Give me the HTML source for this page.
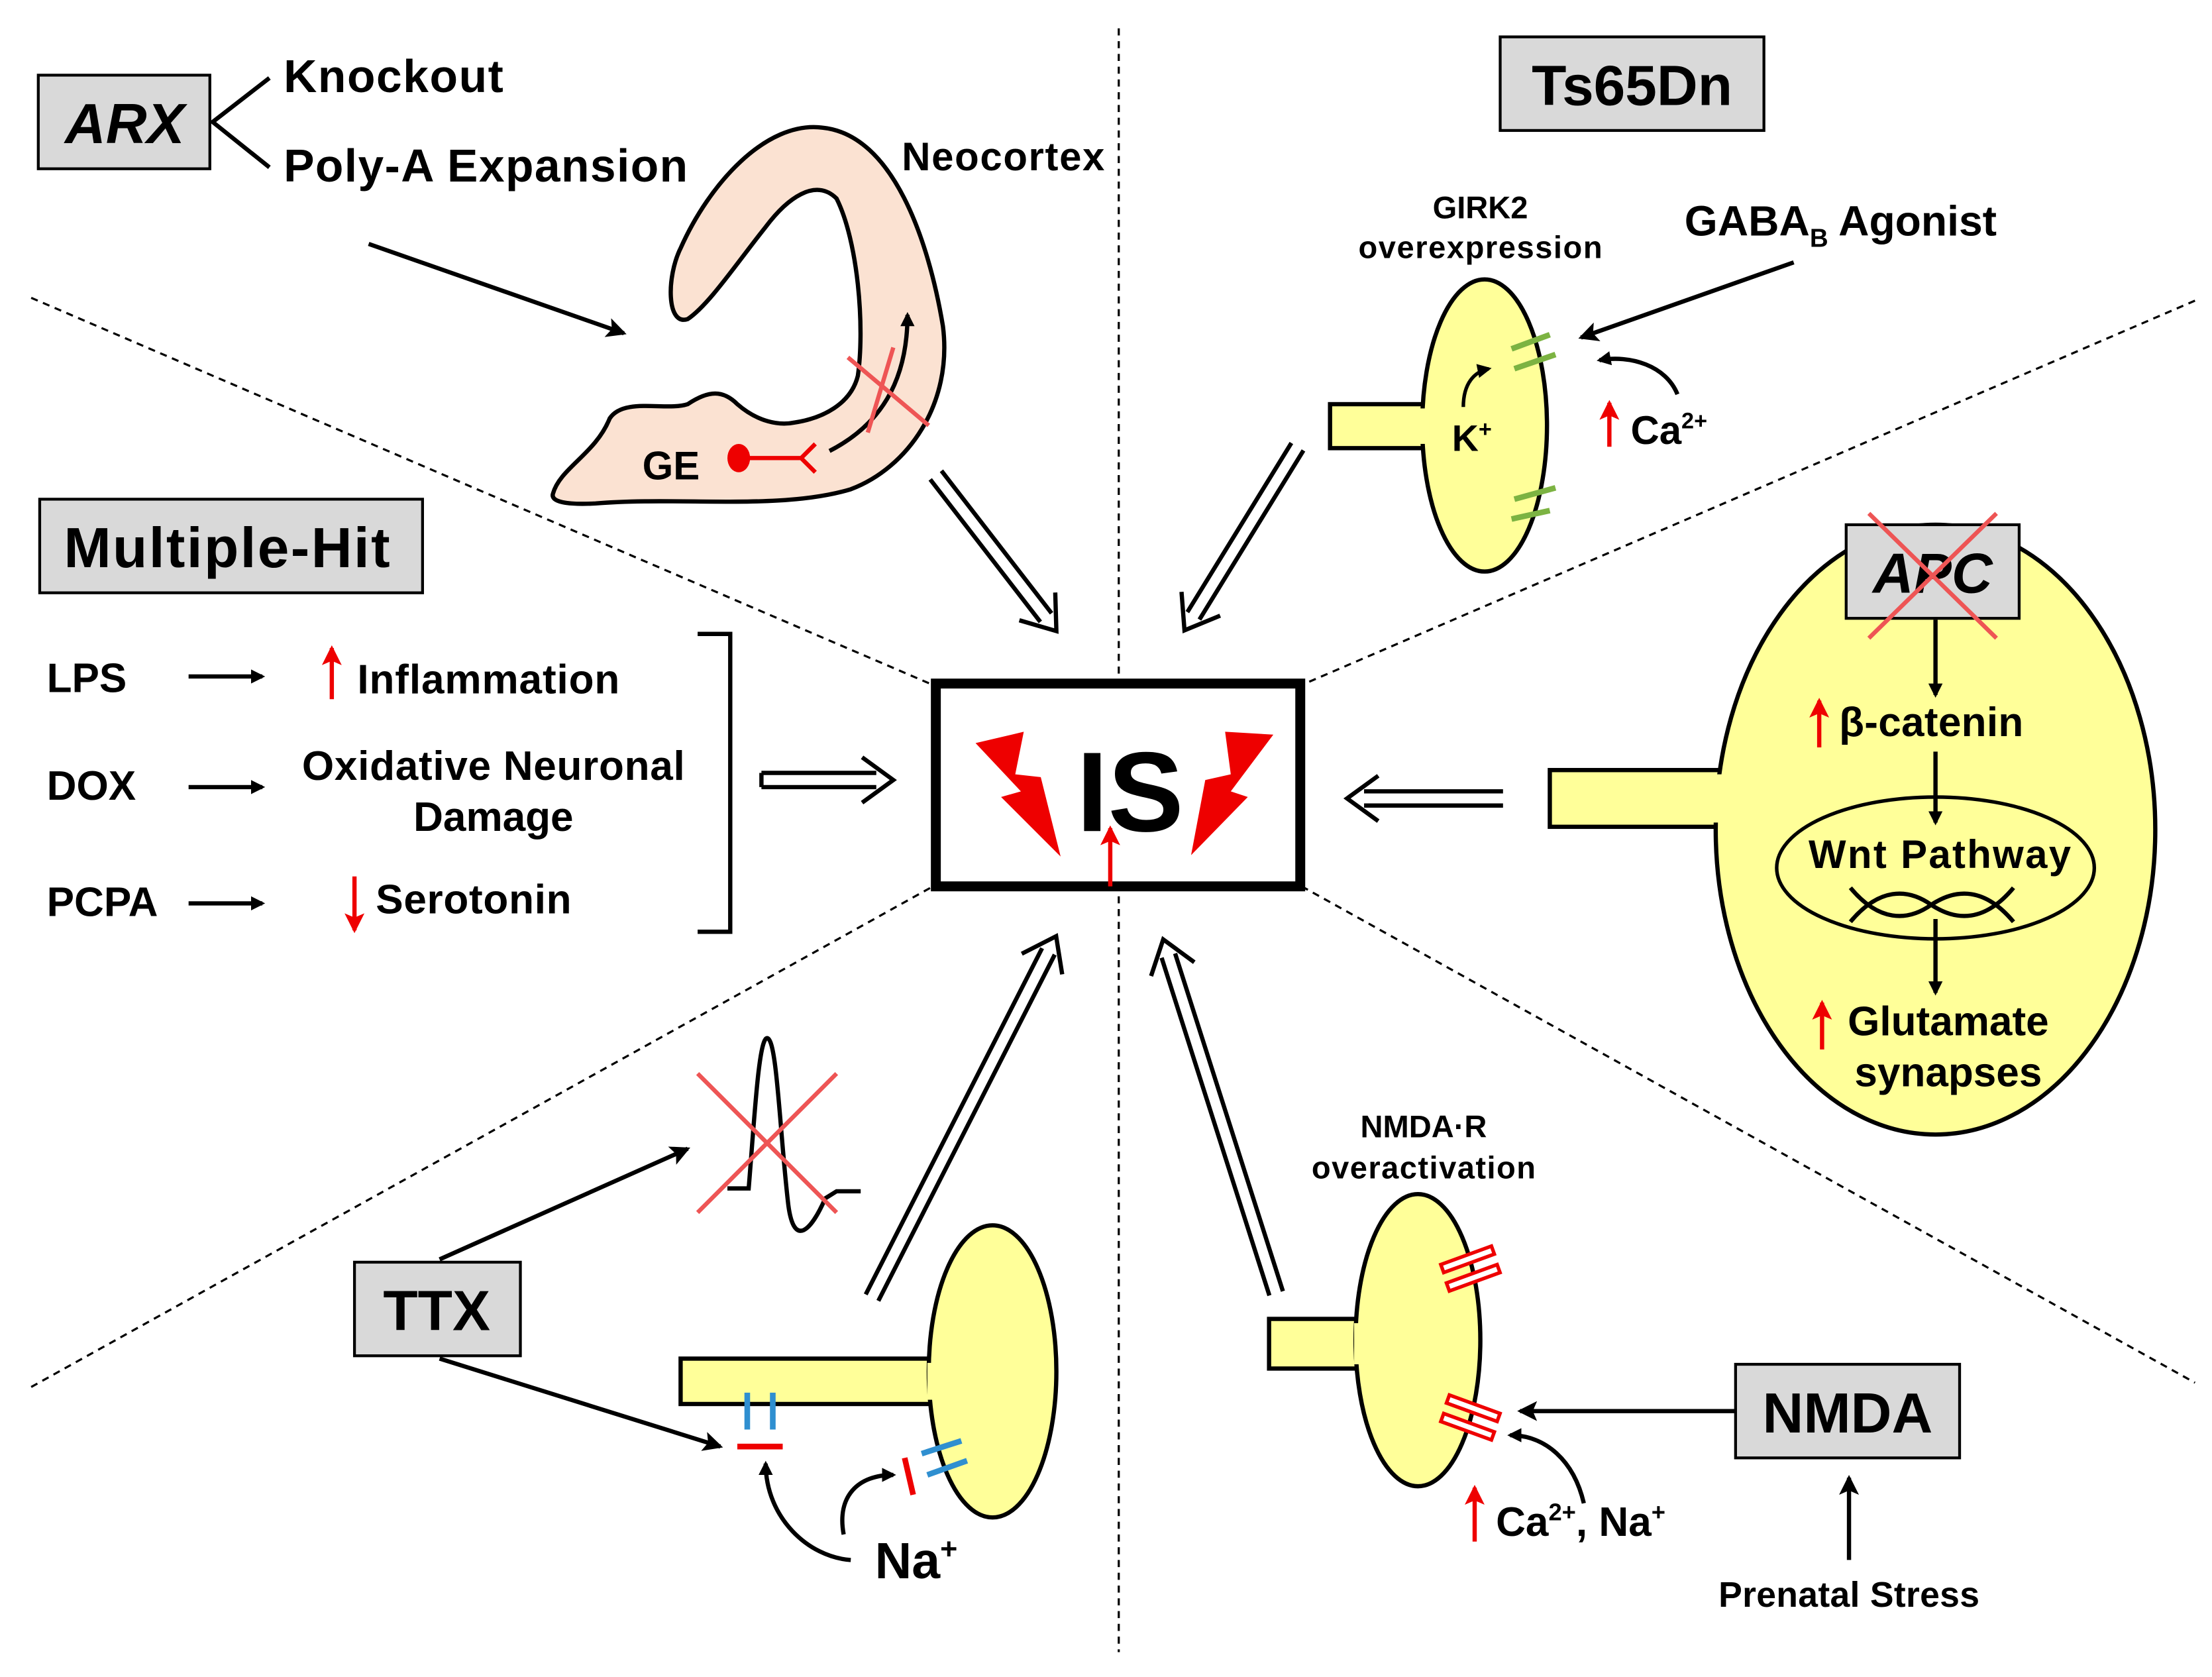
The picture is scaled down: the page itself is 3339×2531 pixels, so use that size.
<!DOCTYPE html>
<html><head><meta charset="utf-8"><style>
html,body{margin:0;padding:0;background:#fff;}
svg{display:block;}
text{font-family:"Liberation Sans",Arial,sans-serif;font-weight:bold;fill:#000;}
</style></head><body>
<svg width="3339" height="2531" viewBox="0 0 1560 1182.5" preserveAspectRatio="none" xmlns="http://www.w3.org/2000/svg">
<defs>
<marker id="ah" markerWidth="10" markerHeight="10" refX="8" refY="5" orient="auto" markerUnits="userSpaceOnUse" viewBox="0 0 10 10">
<path d="M0,0 L10,5 L0,10 Z" fill="#000"/></marker>
<marker id="ahb" markerWidth="14" markerHeight="14" refX="12" refY="7" orient="auto" markerUnits="userSpaceOnUse" viewBox="0 0 14 14">
<path d="M0,0 L14,7 L0,14 L3,7 Z" fill="#000"/></marker>
<marker id="ahr" markerWidth="14" markerHeight="14" refX="12" refY="7" orient="auto" markerUnits="userSpaceOnUse" viewBox="0 0 14 14">
<path d="M0,0 L14,7 L0,14 L3,7 Z" fill="#e00"/></marker>
</defs>

<g stroke="#000" stroke-width="1.5" stroke-dasharray="5,4" fill="none">
<line x1="789" y1="20" x2="789" y2="1165"/>
<line x1="22" y1="210" x2="658" y2="483"/>
<line x1="1548" y1="212" x2="918" y2="483"/>
<line x1="22" y1="978" x2="658" y2="625"/>
<line x1="918" y1="625" x2="1548" y2="975"/>
</g>

<rect x="660" y="482" width="257" height="143" fill="#fff" stroke="#000" stroke-width="7"/>
<text x="797" y="586" font-size="80" text-anchor="middle">IS</text>
<polygon points="688,524 722,516 716,546 734,548 748,604 706,562 720,558" fill="#e00"/>
<polygon points="898,518 864,516 868,546 850,550 840,603 880,562 868,558" fill="#e00"/>
<line x1="783" y1="625" x2="783" y2="584" stroke="#e00" stroke-width="3" marker-end="url(#ahr)"/>

<g stroke="#000" fill="none" stroke-width="3">
<g transform="translate(660,335) rotate(52.3)"><path d="M0,-5 H127 M0,5 H127"/><polyline points="117,-16 139,0 117,16"/></g>
<g transform="translate(915,315) rotate(121.6)"><path d="M0,-5 H140 M0,5 H140"/><polyline points="130,-16 152,0 130,16"/></g>
<g transform="translate(537,550)"><path d="M0,-5 H81 M0,5 H81 M0,-5 V5"/><polyline points="71,-16 93,0 71,16"/></g>
<g transform="translate(1060,563) rotate(180)"><path d="M0,-5 H98 M0,5 H98"/><polyline points="88,-16 110,0 88,16"/></g>
<g transform="translate(615,915) rotate(-63)"><path d="M0,-5 H274 M0,5 H274"/><polyline points="264,-16 286,0 264,16"/></g>
<g transform="translate(900,912) rotate(-107.7)"><path d="M0,-5 H250 M0,5 H250"/><polyline points="240,-16 262,0 240,16"/></g>
</g>

<rect x="27" y="53" width="121" height="66" fill="#d9d9d9" stroke="#000" stroke-width="2"/>
<text x="88" y="101" font-size="40" font-style="italic" text-anchor="middle">ARX</text>
<polyline points="190,55 150,86 190,118" fill="none" stroke="#000" stroke-width="3"/>
<text x="200" y="65" font-size="32.5" textLength="155">Knockout</text>
<text x="200" y="128" font-size="32.5" textLength="285">Poly-A Expansion</text>
<line x1="260" y1="172" x2="440" y2="235" stroke="#000" stroke-width="3" marker-end="url(#ahb)"/>

<path d="M390,348 C395,330 420,320 430,295 C440,280 470,290 485,285 C500,275 510,275 520,285 C535,298 550,300 560,298 C580,295 600,285 605,265 C610,230 605,170 590,140 C575,125 555,140 540,160 C520,185 500,215 485,225 C470,230 470,195 480,175 C500,130 540,85 580,90 C630,95 655,170 665,230 C672,285 640,330 600,345 C550,360 480,350 420,355 C400,356 388,354 390,348 Z" fill="#fbe2d2" stroke="#000" stroke-width="3"/>
<text x="636" y="120" font-size="28" textLength="143">Neocortex</text>
<text x="453" y="338" font-size="28">GE</text>
<ellipse cx="521" cy="323" rx="8" ry="10" fill="#e00"/>
<line x1="521" y1="323" x2="565" y2="323" stroke="#e00" stroke-width="3"/>
<path d="M575,313 L565,323 L575,333" fill="none" stroke="#e00" stroke-width="3"/>
<path d="M585,318 C620,300 640,270 640,222" fill="none" stroke="#000" stroke-width="3" marker-end="url(#ah)"/>
<line x1="598" y1="252" x2="655" y2="300" stroke="#e55" stroke-width="3"/>
<line x1="630" y1="245" x2="612" y2="305" stroke="#e55" stroke-width="3"/>

<rect x="28" y="352" width="270" height="66" fill="#d9d9d9" stroke="#000" stroke-width="2"/>
<text x="160" y="400" font-size="40" text-anchor="middle" textLength="230">Multiple-Hit</text>
<g font-size="29">
<text x="33" y="488">LPS</text>
<text x="33" y="564">DOX</text>
<text x="33" y="646">PCPA</text>
<text x="252" y="489" textLength="185">Inflammation</text>
<text x="348" y="550" text-anchor="middle" textLength="270">Oxidative Neuronal</text>
<text x="348" y="586" text-anchor="middle">Damage</text>
<text x="265" y="644" textLength="138">Serotonin</text>
</g>
<g stroke="#000" stroke-width="3" fill="none">
<line x1="133" y1="477" x2="185" y2="477" marker-end="url(#ah)"/>
<line x1="133" y1="555" x2="185" y2="555" marker-end="url(#ah)"/>
<line x1="133" y1="637" x2="185" y2="637" marker-end="url(#ah)"/>
<polyline points="492,447 515,447 515,657 492,657"/>
</g>
<line x1="234" y1="493" x2="234" y2="457" stroke="#e00" stroke-width="3" marker-end="url(#ahr)"/>
<line x1="250" y1="618" x2="250" y2="656" stroke="#e00" stroke-width="3" marker-end="url(#ahr)"/>

<rect x="1058" y="26" width="186" height="66" fill="#d9d9d9" stroke="#000" stroke-width="2"/>
<text x="1151" y="74" font-size="40" text-anchor="middle">Ts65Dn</text>
<text x="1044" y="154" font-size="22" text-anchor="middle">GIRK2</text>
<text x="1044" y="182" font-size="22" text-anchor="middle" textLength="172">overexpression</text>
<text x="1188" y="166" font-size="30">GABA<tspan font-size="18" dy="8">B</tspan><tspan dy="-8"> Agonist</tspan></text>
<line x1="1265" y1="185" x2="1115" y2="238" stroke="#000" stroke-width="3" marker-end="url(#ahb)"/>
<rect x="938" y="285" width="70" height="31" fill="#ffff99" stroke="#000" stroke-width="3"/>
<ellipse cx="1047" cy="300" rx="44" ry="103" fill="#ffff99" stroke="#000" stroke-width="3"/>
<rect x="1000" y="288" width="8" height="25" fill="#ffff99"/>
<g stroke="#7cb342" stroke-width="4">
<line x1="1066" y1="246" x2="1093" y2="236"/><line x1="1068" y1="260" x2="1097" y2="250"/>
<line x1="1068" y1="352" x2="1097" y2="344"/><line x1="1066" y1="366" x2="1093" y2="360"/>
</g>
<text x="1024" y="318" font-size="26">K<tspan font-size="16" dy="-10">+</tspan></text>
<path d="M1032,287 C1032,270 1040,262 1050,260" fill="none" stroke="#000" stroke-width="2.5" marker-end="url(#ah)"/>
<line x1="1135" y1="315" x2="1135" y2="284" stroke="#e00" stroke-width="3" marker-end="url(#ahr)"/>
<text x="1150" y="313" font-size="28">Ca<tspan font-size="16" dy="-11">2+</tspan></text>
<path d="M1183,278 C1175,258 1150,250 1128,254" fill="none" stroke="#000" stroke-width="3" marker-end="url(#ah)"/>

<rect x="1093" y="543" width="125" height="40" fill="#ffff99" stroke="#000" stroke-width="3"/>
<ellipse cx="1365" cy="585" rx="155" ry="215" fill="#ffff99" stroke="#000" stroke-width="3"/>
<rect x="1205" y="546" width="14" height="34" fill="#ffff99"/>
<rect x="1302" y="370" width="122" height="66" fill="#d9d9d9" stroke="#000" stroke-width="2"/>
<text x="1363" y="418" font-size="40" font-style="italic" text-anchor="middle">APC</text>
<line x1="1318" y1="362" x2="1408" y2="450" stroke="#e55" stroke-width="3"/>
<line x1="1408" y1="362" x2="1318" y2="450" stroke="#e55" stroke-width="3"/>
<g stroke="#000" stroke-width="3">
<line x1="1365" y1="437" x2="1365" y2="490" marker-end="url(#ah)"/>
<line x1="1365" y1="530" x2="1365" y2="580" marker-end="url(#ah)"/>
<line x1="1365" y1="648" x2="1365" y2="700" marker-end="url(#ah)"/>
</g>
<line x1="1283" y1="527" x2="1283" y2="494" stroke="#e00" stroke-width="3" marker-end="url(#ahr)"/>
<text x="1297" y="519" font-size="29" textLength="130">β-catenin</text>
<ellipse cx="1365" cy="612" rx="112" ry="50" fill="none" stroke="#000" stroke-width="2.5"/>
<text x="1368" y="612" font-size="28" text-anchor="middle" textLength="185">Wnt Pathway</text>
<path d="M1305,626 C1325,650 1345,650 1362,638 C1380,626 1400,626 1420,650 M1305,650 C1325,626 1345,626 1362,638 C1380,650 1400,650 1420,626" fill="none" stroke="#000" stroke-width="3"/>
<line x1="1285" y1="740" x2="1285" y2="707" stroke="#e00" stroke-width="3" marker-end="url(#ahr)"/>
<text x="1374" y="730" font-size="29" text-anchor="middle">Glutamate</text>
<text x="1374" y="766" font-size="29" text-anchor="middle">synapses</text>

<rect x="250" y="890" width="117" height="66" fill="#d9d9d9" stroke="#000" stroke-width="2"/>
<text x="308" y="938" font-size="40" text-anchor="middle">TTX</text>
<line x1="310" y1="888" x2="485" y2="810" stroke="#000" stroke-width="3" marker-end="url(#ahb)"/>
<line x1="310" y1="958" x2="508" y2="1020" stroke="#000" stroke-width="3" marker-end="url(#ahb)"/>
<path d="M513,838 L528,838 C532,790 535,732 541,732 C548,732 550,800 556,850 C560,880 572,868 582,845 L590,840 L607,840" fill="none" stroke="#000" stroke-width="3"/>
<line x1="492" y1="757" x2="590" y2="855" stroke="#e55" stroke-width="3"/>
<line x1="590" y1="757" x2="492" y2="855" stroke="#e55" stroke-width="3"/>
<rect x="480" y="958" width="190" height="32" fill="#ffff99" stroke="#000" stroke-width="3"/>
<ellipse cx="700" cy="967" rx="45" ry="103" fill="#ffff99" stroke="#000" stroke-width="3"/>
<rect x="654" y="961" width="10" height="26" fill="#ffff99"/>
<g stroke-width="4">
<line x1="527" y1="982" x2="527" y2="1008" stroke="#2f8fd0"/>
<line x1="545" y1="982" x2="545" y2="1008" stroke="#2f8fd0"/>
<line x1="520" y1="1020" x2="552" y2="1020" stroke="#e00"/>
<line x1="650" y1="1025" x2="678" y2="1016" stroke="#2f8fd0"/>
<line x1="654" y1="1040" x2="682" y2="1030" stroke="#2f8fd0"/>
<line x1="638" y1="1028" x2="644" y2="1054" stroke="#e00"/>
</g>
<text x="617" y="1113" font-size="36">Na<tspan font-size="21" dy="-14">+</tspan></text>
<path d="M600,1100 C570,1098 540,1070 540,1032" fill="none" stroke="#000" stroke-width="3" marker-end="url(#ah)"/>
<path d="M595,1082 C590,1055 605,1040 630,1040" fill="none" stroke="#000" stroke-width="3" marker-end="url(#ah)"/>

<text x="1004" y="802" font-size="22" text-anchor="middle">NMDA·R</text>
<text x="1004" y="831" font-size="22" text-anchor="middle" textLength="158">overactivation</text>
<rect x="895" y="930" width="70" height="35" fill="#ffff99" stroke="#000" stroke-width="3"/>
<ellipse cx="1000" cy="945" rx="44" ry="103" fill="#ffff99" stroke="#000" stroke-width="3"/>
<rect x="955" y="933" width="12" height="29" fill="#ffff99"/>
<g fill="#fff" stroke="#e00" stroke-width="2.5">
<rect x="1016" y="885" width="38" height="6" transform="rotate(-20 1035 888)"/>
<rect x="1020" y="898" width="38" height="6" transform="rotate(-20 1039 901)"/>
<rect x="1020" y="990" width="38" height="6" transform="rotate(20 1039 993)"/>
<rect x="1016" y="1003" width="38" height="6" transform="rotate(20 1035 1006)"/>
</g>
<rect x="1224" y="962" width="158" height="66" fill="#d9d9d9" stroke="#000" stroke-width="2"/>
<text x="1303" y="1010" font-size="40" text-anchor="middle">NMDA</text>
<line x1="1224" y1="995" x2="1072" y2="995" stroke="#000" stroke-width="3" marker-end="url(#ahb)"/>
<path d="M1117,1060 C1110,1030 1090,1012 1065,1012" fill="none" stroke="#000" stroke-width="3" marker-end="url(#ah)"/>
<line x1="1040" y1="1087" x2="1040" y2="1049" stroke="#e00" stroke-width="3" marker-end="url(#ahr)"/>
<text x="1055" y="1083" font-size="29">Ca<tspan font-size="17" dy="-11">2+</tspan><tspan dy="11">, Na</tspan><tspan font-size="17" dy="-11">+</tspan></text>
<line x1="1304" y1="1100" x2="1304" y2="1042" stroke="#000" stroke-width="3" marker-end="url(#ahb)"/>
<text x="1304" y="1133" font-size="25" text-anchor="middle" textLength="184">Prenatal Stress</text>
</svg>
</body></html>
